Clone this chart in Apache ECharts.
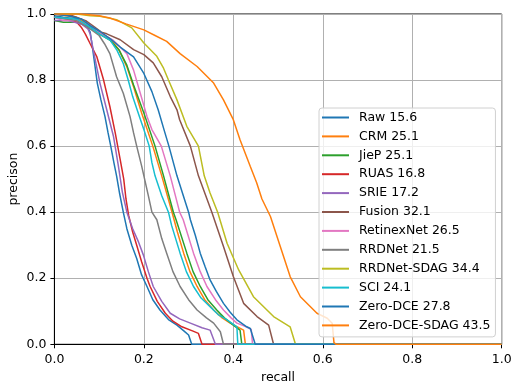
<!DOCTYPE html>
<html>
<head>
  <meta charset="utf-8">
</head>
<body style="margin: 0">
  <div id="container" style="width: 512px; height: 381px"></div>
  <script src="https://cdn.jsdelivr.net/npm/echarts@6/dist/echarts.min.js"></script>
  <script>
    // method names and AP values shown in the legend
    var methods = ['Raw', 'CRM', 'JieP', 'RUAS', 'SRIE', 'Fusion', 'RetinexNet', 'RRDNet',
      'RRDNet-SDAG', 'SCI', 'Zero-DCE', 'Zero-DCE-SDAG'];
    var apValues = ['15.6', '25.1', '25.1', '16.8', '17.2', '32.1', '26.5', '21.5', '34.4', '24.1', '27.8', '43.5'];
    var colors = ['#1f77b4', '#ff7f0e', '#2ca02c', '#d62728', '#9467bd', '#8c564b', '#e377c2',
      '#7f7f7f', '#bcbd22', '#17becf', '#1f77b4', '#ff7f0e'];
    var tickLabels = ['0.0', '0.2', '0.4', '0.6', '0.8', '1.0'];

    // [recall, precision]
    var raw = [[0, 0.995], [0.02, 0.99], [0.05, 0.985], [0.07, 0.97], [0.08, 0.945], [0.085, 0.9],
      [0.09, 0.85], [0.096, 0.79], [0.104, 0.74], [0.113, 0.69], [0.12, 0.64], [0.126, 0.6],
      [0.133, 0.55], [0.139, 0.51], [0.146, 0.455], [0.154, 0.4], [0.162, 0.35], [0.173, 0.3],
      [0.184, 0.26], [0.195, 0.21], [0.207, 0.175], [0.22, 0.135], [0.236, 0.104], [0.255, 0.075],
      [0.274, 0.058], [0.29, 0.04], [0.3, 0.028], [0.307, 0], [1, 0]];
    var crm = [[0, 1.0], [0.05, 0.99], [0.08, 0.965], [0.1, 0.945], [0.125, 0.925], [0.145, 0.89],
      [0.162, 0.84], [0.177, 0.78], [0.195, 0.7], [0.22, 0.6], [0.24, 0.51], [0.263, 0.4],
      [0.275, 0.34], [0.289, 0.276], [0.303, 0.22], [0.319, 0.175], [0.336, 0.135], [0.356, 0.104],
      [0.375, 0.08], [0.393, 0.064], [0.423, 0.043], [0.427, 0], [1, 0]];
    var jiep = [[0, 0.98], [0.02, 0.975], [0.05, 0.975], [0.08, 0.96], [0.1, 0.94], [0.125, 0.92],
      [0.145, 0.89], [0.162, 0.845], [0.177, 0.785], [0.2, 0.7], [0.225, 0.6], [0.244, 0.51],
      [0.266, 0.4], [0.272, 0.377], [0.296, 0.276], [0.31, 0.22], [0.326, 0.175], [0.343, 0.135],
      [0.363, 0.104], [0.38, 0.08], [0.4, 0.058], [0.415, 0.043], [0.419, 0], [1, 0]];
    var ruas = [[0, 0.99], [0.03, 0.985], [0.05, 0.975], [0.06, 0.96], [0.069, 0.94], [0.08, 0.91],
      [0.095, 0.87], [0.11, 0.8], [0.124, 0.72], [0.136, 0.64], [0.147, 0.56], [0.155, 0.5],
      [0.16, 0.44], [0.166, 0.39], [0.175, 0.34], [0.184, 0.3], [0.195, 0.25], [0.207, 0.2],
      [0.214, 0.175], [0.23, 0.13], [0.248, 0.094], [0.265, 0.07], [0.285, 0.053], [0.31, 0.04],
      [0.322, 0.033], [0.33, 0], [1, 0]];
    var srie = [[0, 0.98], [0.03, 0.98], [0.06, 0.97], [0.075, 0.955], [0.08, 0.94], [0.087, 0.89],
      [0.102, 0.79], [0.117, 0.71], [0.132, 0.63], [0.143, 0.54], [0.152, 0.46], [0.162, 0.4],
      [0.175, 0.35], [0.188, 0.31], [0.199, 0.27], [0.21, 0.22], [0.221, 0.175], [0.24, 0.13],
      [0.259, 0.094], [0.28, 0.077], [0.304, 0.064], [0.33, 0.05], [0.348, 0.043], [0.36, 0], [1, 0]];
    var fusion = [[0, 1.0], [0.04, 0.995], [0.07, 0.98], [0.09, 0.96], [0.105, 0.945], [0.117, 0.94],
      [0.147, 0.922], [0.177, 0.892], [0.2, 0.877], [0.221, 0.852], [0.24, 0.81], [0.259, 0.75],
      [0.274, 0.71], [0.28, 0.68], [0.304, 0.6], [0.322, 0.51], [0.352, 0.4], [0.378, 0.296],
      [0.4, 0.205], [0.423, 0.124], [0.453, 0.084], [0.479, 0.058], [0.49, 0], [1, 0]];
    var retinexNet = [[0, 0.99], [0.02, 0.98], [0.05, 0.98], [0.08, 0.965], [0.1, 0.945], [0.132, 0.92],
      [0.162, 0.88], [0.177, 0.83], [0.192, 0.76], [0.207, 0.69], [0.218, 0.65], [0.239, 0.6],
      [0.259, 0.51], [0.28, 0.4], [0.288, 0.377], [0.311, 0.276], [0.326, 0.22], [0.341, 0.175],
      [0.36, 0.135], [0.378, 0.104], [0.395, 0.08], [0.408, 0.064], [0.425, 0.055], [0.44, 0.045],
      [0.443, 0], [1, 0]];
    var rrdNet = [[0, 0.99], [0.05, 0.98], [0.08, 0.955], [0.1, 0.935], [0.112, 0.91], [0.124, 0.88],
      [0.139, 0.81], [0.154, 0.76], [0.169, 0.69], [0.177, 0.64], [0.184, 0.6], [0.195, 0.54],
      [0.21, 0.45], [0.218, 0.4], [0.229, 0.377], [0.24, 0.32], [0.251, 0.276], [0.265, 0.22],
      [0.281, 0.175], [0.3, 0.135], [0.319, 0.104], [0.34, 0.08], [0.356, 0.064], [0.371, 0.038],
      [0.378, 0], [1, 0]];
    var rrdNetSdag = [[0, 1.0], [0.05, 1.0], [0.08, 0.995], [0.102, 0.993], [0.139, 0.983],
      [0.173, 0.958], [0.2, 0.912], [0.229, 0.872], [0.244, 0.836], [0.255, 0.8], [0.274, 0.74],
      [0.296, 0.66], [0.322, 0.6], [0.335, 0.51], [0.348, 0.458], [0.365, 0.4], [0.386, 0.306],
      [0.412, 0.225], [0.445, 0.144], [0.49, 0.084], [0.527, 0.053], [0.539, 0], [1, 0]];
    var sci = [[0, 0.99], [0.05, 0.985], [0.08, 0.96], [0.1, 0.94], [0.125, 0.92], [0.14, 0.89],
      [0.154, 0.85], [0.165, 0.8], [0.175, 0.75], [0.19, 0.69], [0.2, 0.65], [0.212, 0.6],
      [0.218, 0.55], [0.225, 0.51], [0.24, 0.45], [0.255, 0.4], [0.262, 0.36], [0.281, 0.276],
      [0.295, 0.22], [0.311, 0.175], [0.328, 0.14], [0.348, 0.114], [0.366, 0.09], [0.386, 0.074],
      [0.408, 0.053], [0.41, 0], [1, 0]];
    var zeroDce = [[0, 1.0], [0.03, 0.995], [0.06, 0.985], [0.08, 0.965], [0.102, 0.947],
      [0.125, 0.925], [0.147, 0.9], [0.177, 0.87], [0.2, 0.82], [0.218, 0.765], [0.232, 0.71],
      [0.245, 0.65], [0.256, 0.6], [0.274, 0.51], [0.3, 0.4], [0.304, 0.377], [0.315, 0.33], [0.326, 0.276],
      [0.337, 0.235], [0.348, 0.195], [0.362, 0.16], [0.378, 0.124], [0.393, 0.097], [0.408, 0.074],
      [0.43, 0.053], [0.438, 0.048], [0.449, 0], [1, 0]];
    var zeroDceSdag = [[0, 1.0], [0.06, 1.0], [0.1, 0.995], [0.124, 0.988], [0.16, 0.97], [0.2, 0.952],
      [0.225, 0.935], [0.251, 0.917], [0.281, 0.88], [0.319, 0.841], [0.356, 0.791], [0.378, 0.74],
      [0.4, 0.68], [0.415, 0.619], [0.438, 0.538], [0.452, 0.49], [0.464, 0.44], [0.483, 0.387],
      [0.505, 0.296], [0.527, 0.205], [0.55, 0.144], [0.587, 0.094], [0.61, 0.079], [0.621, 0.064],
      [0.625, 0.005], [0.63, 0], [1, 0]];

    var curves = [raw, crm, jiep, ruas, srie, fusion, retinexNet, rrdNet, rrdNetSdag, sci, zeroDce, zeroDceSdag];

    var myChart = echarts.init(document.getElementById('container'), null, { renderer: 'canvas' });

    var font = 'DejaVu Sans';
    var fontSize = 12.5;
    var seriesList = methods.map(function (m, i) {
      return {
        name: m + ' ' + apValues[i],
        type: 'line',
        data: curves[i],
        symbol: 'none',
        animation: false,
        lineStyle: { width: 1.5, color: colors[i] },
        itemStyle: { color: colors[i] }
      };
    });

    var axisCommon = {
      type: 'value',
      min: 0,
      max: 1,
      interval: 0.2,
      axisLine: { show: true, lineStyle: { color: '#000', width: 1 } },
      axisTick: { show: true, inside: false, length: 4, lineStyle: { color: '#000' } },
      splitLine: { show: true, lineStyle: { color: '#b0b0b0', width: 1 } },
      nameTextStyle: { fontFamily: font, fontSize: fontSize, color: '#000' }
    };

    var option = {
      backgroundColor: '#fff',
      grid: {
        left: 54.4, right: 10.3, top: 14, bottom: 36.7,
        outerBoundsMode: 'none',
        show: true, borderColor: '#000', borderWidth: 1
      },
      legend: {
        orient: 'vertical',
        left: 319,
        top: 108,
        padding: [3, 5, 5, 3],
        icon: 'rect',
        itemWidth: 27,
        itemHeight: 2,
        itemGap: 5.9,
        backgroundColor: 'rgba(255,255,255,0.8)',
        borderColor: '#d0d0d0',
        borderWidth: 1,
        borderRadius: 3,
        textStyle: { fontFamily: font, fontSize: fontSize, color: '#000', padding: [0, 0, 0, 5] },
        data: seriesList.map(function (s) { return s.name; })
      },
      xAxis: Object.assign({}, axisCommon, {
        name: 'recall',
        nameLocation: 'middle',
        nameGap: 25,
        axisLabel: {
          fontFamily: font, fontSize: fontSize, color: '#000', margin: 9,
          formatter: function (v) { return tickLabels[Math.round(v * 5)]; }
        }
      }),
      yAxis: Object.assign({}, axisCommon, {
        name: 'precison',
        nameLocation: 'middle',
        nameMoveOverlap: false,
        nameGap: 34,
        axisLabel: {
          fontFamily: font, fontSize: fontSize, color: '#000', margin: 8,
          formatter: function (v) { return tickLabels[Math.round(v * 5)]; }
        }
      }),
      series: seriesList
    };

    myChart.setOption(option);
  </script>
</body>
</html>
